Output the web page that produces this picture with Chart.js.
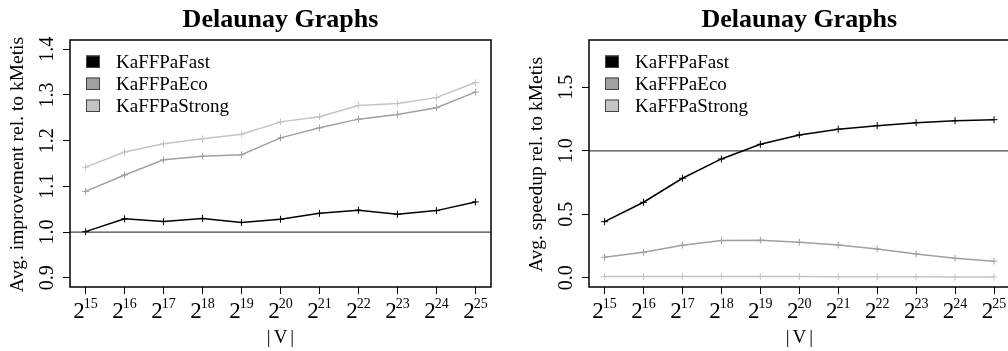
<!DOCTYPE html>
<html>
<head>
<meta charset="utf-8">
<title>Delaunay Graphs</title>
<script src="https://cdn.jsdelivr.net/npm/chart.js@4.4.1/dist/chart.umd.min.js"></script>
<style>
  html, body { margin: 0; padding: 0; background: #fff; overflow: hidden; }
  #wrap { position: relative; width: 1008px; height: 351px; overflow: hidden; }
  .panel { position: absolute; top: 0; }
  #left { left: 0; }
  #right { left: 500px; }
</style>
</head>
<body>
<div id="wrap">
  <div class="panel" id="left"><canvas id="improvement" width="500" height="351"></canvas></div>
  <div class="panel" id="right"><canvas id="speedup" width="520" height="351"></canvas></div>
</div>
<script>
// |V| = 2^exponent
const exponents = [15, 16, 17, 18, 19, 20, 21, 22, 23, 24, 25];

const improvementFast   = [1.001, 1.029, 1.023, 1.030, 1.021, 1.028, 1.041, 1.048, 1.039, 1.047, 1.066];
const improvementEco    = [1.089, 1.125, 1.158, 1.166, 1.169, 1.206, 1.228, 1.247, 1.257, 1.272, 1.306];
const improvementStrong = [1.142, 1.175, 1.193, 1.204, 1.214, 1.241, 1.252, 1.277, 1.281, 1.294, 1.327];

const speedupFast   = [0.442, 0.595, 0.784, 0.936, 1.051, 1.125, 1.170, 1.198, 1.221, 1.237, 1.245];
const speedupEco    = [0.162, 0.201, 0.257, 0.293, 0.296, 0.280, 0.259, 0.227, 0.188, 0.154, 0.131];
const speedupStrong = [0.010, 0.010, 0.011, 0.011, 0.010, 0.010, 0.009, 0.009, 0.008, 0.007, 0.007];

const improvementTicks = [0.9, 1.0, 1.1, 1.2, 1.3, 1.4];
const speedupTicks = [0.0, 0.5, 1.0, 1.5];

const seriesNames = ['KaFFPaFast', 'KaFFPaEco', 'KaFFPaStrong'];
const seriesColors = ['#000000', '#a0a0a0', '#c4c4c4'];

const SERIF = '"Liberation Serif", "Times New Roman", serif';

// box, reference line, axis texts and legend drawn R-style
const rStyle = {
  id: 'rStyle',
  beforeDatasetsDraw(chart, args, opts) {
    const { ctx, chartArea: a, scales: { y } } = chart;
    const yRef = y.getPixelForValue(opts.refValue);
    ctx.save();
    ctx.strokeStyle = '#444';
    ctx.lineWidth = 1.2;
    ctx.beginPath();
    ctx.moveTo(a.left, yRef);
    ctx.lineTo(a.right, yRef);
    ctx.stroke();
    ctx.restore();
  },
  afterDraw(chart, args, opts) {
    const { ctx, chartArea: a, scales: { x, y } } = chart;
    const cx = (a.left + a.right) / 2;
    const cy = (a.top + a.bottom) / 2;
    ctx.save();

    ctx.strokeStyle = '#000';
    ctx.lineWidth = 1.5;
    ctx.strokeRect(a.left, a.top, a.right - a.left, a.bottom - a.top);

    ctx.fillStyle = '#000';

    // title
    ctx.font = 'bold 26px ' + SERIF;
    ctx.textAlign = 'center';
    ctx.textBaseline = 'alphabetic';
    ctx.fillText(opts.title, cx, 27);

    // x axis title
    ctx.font = '19px ' + SERIF;
    ctx.letterSpacing = '3px';
    ctx.fillText('|V|', cx + 1.5, 343);
    ctx.letterSpacing = '0px';

    // x tick labels: 2 with superscript exponent
    x.ticks.forEach(t => {
      const px = x.getPixelForValue(t.value);
      const exp = String(t.value);
      ctx.font = '23px ' + SERIF;
      const wBase = ctx.measureText('2').width;
      ctx.font = '14px ' + SERIF;
      const wExp = ctx.measureText(exp).width;
      const x0 = px - (wBase + wExp - 1) / 2;
      ctx.textAlign = 'left';
      ctx.font = '23px ' + SERIF;
      ctx.fillText('2', x0, 317.5);
      ctx.font = '14px ' + SERIF;
      ctx.fillText(exp, x0 + wBase - 1, 308);
    });

    // y tick labels, rotated
    ctx.font = '20px ' + SERIF;
    ctx.textAlign = 'center';
    y.ticks.forEach(t => {
      const py = y.getPixelForValue(t.value);
      ctx.save();
      ctx.translate(a.left - 17, py);
      ctx.rotate(-Math.PI / 2);
      ctx.fillText(t.value.toFixed(1), 0, 0);
      ctx.restore();
    });

    // y axis title
    ctx.font = '19.5px ' + SERIF;
    ctx.save();
    ctx.translate(a.left - 47, cy + 1);
    ctx.rotate(-Math.PI / 2);
    ctx.fillText(opts.yTitle, 0, 0);
    ctx.restore();

    // legend
    ctx.font = '19px ' + SERIF;
    ctx.textAlign = 'left';
    chart.data.datasets.forEach((ds, i) => {
      const base = 68 + i * 22;
      const sx = a.left + 16;
      ctx.fillStyle = ds.borderColor;
      ctx.fillRect(sx, base - 12.5, 14, 12.5);
      ctx.strokeStyle = '#444';
      ctx.lineWidth = 1;
      ctx.strokeRect(sx + 0.5, base - 12, 13, 11.5);
      ctx.fillStyle = '#000';
      ctx.fillText(ds.label, sx + 30, base);
    });

    ctx.restore();
  }
};

function makeChart(id, series, yMin, yMax, yTicks, yTitle, yWidth, padRight) {
  // Fast is listed first and drawn last (on top)
  const datasets = series.map((values, i) => ({
    label: seriesNames[i],
    data: exponents.map((e, j) => ({ x: e, y: values[j] })),
    borderColor: seriesColors[i],
    backgroundColor: seriesColors[i],
    borderWidth: 1.5,
    pointStyle: 'cross',
    pointRadius: 3.5,
    pointBorderWidth: 1,
    pointBorderColor: seriesColors[i],
    tension: 0,
    fill: false,
    order: i
  }));

  return new Chart(document.getElementById(id), {
    type: 'line',
    data: { datasets: datasets },
    options: {
      responsive: false,
      animation: false,
      layout: { padding: { top: 40, right: padRight, left: 0, bottom: 0 } },
      plugins: {
        legend: { display: false },
        tooltip: { enabled: false },
        rStyle: { title: 'Delaunay Graphs', yTitle: yTitle, refValue: 1.0 }
      },
      scales: {
        x: {
          type: 'linear',
          min: exponents[0] - 0.4,
          max: exponents[exponents.length - 1] + 0.4,
          afterBuildTicks: s => { s.ticks = exponents.map(v => ({ value: v })); },
          afterFit: s => { s.height = 64; },
          ticks: { display: false },
          border: { display: false },
          grid: { drawOnChartArea: false, drawTicks: true, tickLength: 7, color: '#000', lineWidth: 1 }
        },
        y: {
          type: 'linear',
          min: yMin,
          max: yMax,
          afterBuildTicks: s => { s.ticks = yTicks.map(v => ({ value: v })); },
          afterFit: s => { s.width = yWidth; },
          ticks: { display: false },
          border: { display: false },
          grid: { drawOnChartArea: false, drawTicks: true, tickLength: 7, color: '#000', lineWidth: 1 }
        }
      }
    },
    plugins: [rStyle]
  });
}

makeChart('improvement',
  [improvementFast, improvementEco, improvementStrong],
  0.88, 1.42, improvementTicks,
  'Avg. improvement rel. to kMetis', 70, 9);

makeChart('speedup',
  [speedupFast, speedupEco, speedupStrong],
  -0.072, 1.872, speedupTicks,
  'Avg. speedup rel. to kMetis', 89, 10.4);
</script>
</body>
</html>
